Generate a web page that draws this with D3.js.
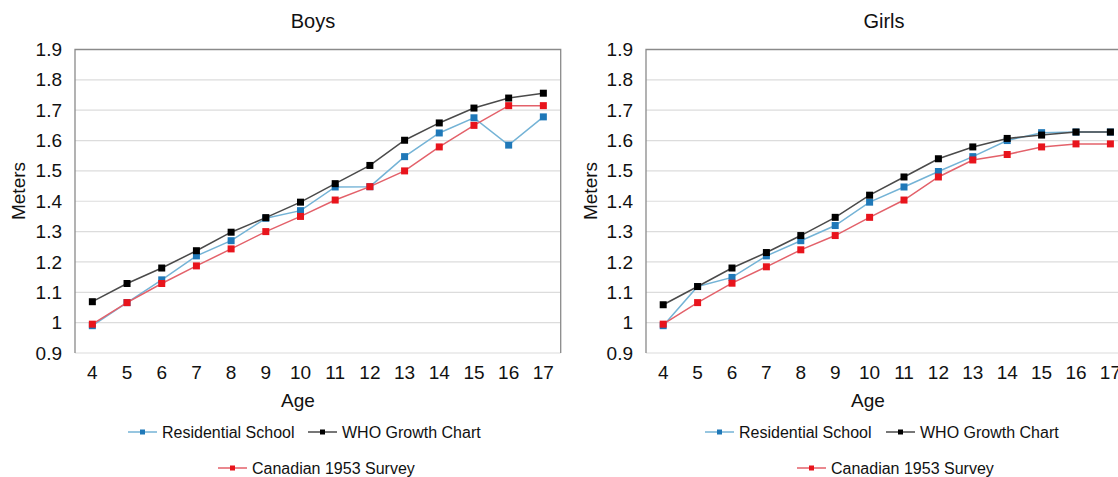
<!DOCTYPE html>
<html>
<head>
<meta charset="utf-8">
<script src="https://cdn.jsdelivr.net/npm/d3@7"></script>
<style>
  html, body { margin: 0; padding: 0; background: #fff; }
  svg { display: block; font-family: "Liberation Sans", Arial, Helvetica, sans-serif; }
</style>
</head>
<body>
<svg id="chart" width="1118" height="477"></svg>
<script>
// ---- Data ----
const ages = [4, 5, 6, 7, 8, 9, 10, 11, 12, 13, 14, 15, 16, 17];
const yTicks = [0.9, 1.0, 1.1, 1.2, 1.3, 1.4, 1.5, 1.6, 1.7, 1.8, 1.9];
const seriesNames = ["Residential School", "WHO Growth Chart", "Canadian 1953 Survey"];

const boysResidential = [0.990, 1.066, 1.141, 1.220, 1.270, 1.344, 1.369, 1.447, 1.448, 1.547, 1.625, 1.675, 1.585, 1.678];
const boysWHO         = [1.069, 1.129, 1.180, 1.237, 1.298, 1.346, 1.397, 1.458, 1.518, 1.601, 1.658, 1.707, 1.740, 1.756];
const boysCanadian    = [0.995, 1.066, 1.129, 1.187, 1.243, 1.300, 1.350, 1.404, 1.448, 1.500, 1.579, 1.650, 1.715, 1.715];

const girlsResidential = [0.990, 1.119, 1.149, 1.220, 1.270, 1.320, 1.397, 1.447, 1.498, 1.547, 1.600, 1.626, 1.628, 1.628];
const girlsWHO         = [1.059, 1.119, 1.180, 1.231, 1.287, 1.347, 1.420, 1.480, 1.540, 1.579, 1.607, 1.618, 1.628, 1.628];
const girlsCanadian    = [0.995, 1.066, 1.130, 1.184, 1.240, 1.287, 1.347, 1.404, 1.480, 1.536, 1.554, 1.579, 1.589, 1.589];

// ---- Styles ----
const styles = [
  { line: "#74b3d6", marker: "#1f78b8" },
  { line: "#4a4a4a", marker: "#000000" },
  { line: "#e3616a", marker: "#e8141c" }
];

const svg = d3.select("#chart");

const panels = [
  { title: "Boys", data: [boysResidential, boysWHO, boysCanadian],
    left: 75, right: 560.7, titleX: 313, metersX: 18, ageX: 298,
    legend: { r1: [128, 308], r2: 218 } },
  { title: "Girls", data: [girlsResidential, girlsWHO, girlsCanadian],
    left: 646, right: 1127.6, titleX: 884, metersX: 590, ageX: 868,
    legend: { r1: [705, 886], r2: 797 } }
];

const plotTop = 49.5, plotBottom = 353;

panels.forEach(p => {
  const g = svg.append("g");
  const x = d3.scaleBand().domain(ages).range([p.left, p.right]).padding(0);
  const y = d3.scaleLinear().domain([0.9, 1.9]).range([plotBottom, plotTop]);

  // gridlines
  g.append("g").selectAll("line")
    .data(yTicks.slice(0, -1))
    .join("line")
    .attr("x1", p.left).attr("x2", p.right)
    .attr("y1", d => y(d)).attr("y2", d => y(d))
    .attr("stroke", "#dcdcdc").attr("stroke-width", 1.2);

  // border (left, top, right)
  g.append("path")
    .attr("d", `M${p.left},${plotBottom} L${p.left},${plotTop} L${p.right},${plotTop} L${p.right},${plotBottom}`)
    .attr("fill", "none").attr("stroke", "#8a8a8a").attr("stroke-width", 1.3);

  // y axis
  const yAxis = d3.axisLeft(y).tickValues(yTicks).tickSize(0).tickPadding(13)
    .tickFormat(d => d3.format("~g")(+d.toFixed(1)));
  const ya = g.append("g").attr("transform", `translate(${p.left},0)`).call(yAxis);
  ya.select(".domain").remove();
  ya.selectAll("text").attr("font-size", 19).attr("fill", "#111")
    .attr("font-family", "'Liberation Sans', Arial, sans-serif");

  // x axis
  const xAxis = d3.axisBottom(x).tickSize(0).tickPadding(13);
  const xa = g.append("g").attr("transform", `translate(0,${plotBottom})`).call(xAxis);
  xa.select(".domain").remove();
  xa.selectAll("text").attr("font-size", 19).attr("fill", "#111")
    .attr("font-family", "'Liberation Sans', Arial, sans-serif");

  // titles
  g.append("text").attr("x", p.titleX).attr("y", 28).attr("text-anchor", "middle")
    .attr("font-size", 20).attr("fill", "#111").text(p.title);
  g.append("text").attr("transform", `translate(${p.metersX + 7},191) rotate(-90)`)
    .attr("text-anchor", "middle").attr("font-size", 19).attr("fill", "#111").text("Meters");
  g.append("text").attr("x", p.ageX).attr("y", 407).attr("text-anchor", "middle")
    .attr("font-size", 19).attr("fill", "#111").text("Age");

  // series
  const cx = d => x(d) + x.bandwidth() / 2;
  const lineGen = d3.line().x((d, i) => cx(ages[i])).y(d => y(d));
  p.data.forEach((vals, si) => {
    const sg = g.append("g");
    sg.append("path").datum(vals).attr("d", lineGen)
      .attr("fill", "none").attr("stroke", styles[si].line).attr("stroke-width", 1.5);
    sg.selectAll("rect").data(vals).join("rect")
      .attr("x", (d, i) => cx(ages[i]) - 3.5).attr("y", d => y(d) - 3.5)
      .attr("width", 7).attr("height", 7).attr("fill", styles[si].marker);
  });

  // legend
  const legendItems = [
    { si: 0, x: p.legend.r1[0], y: 432 },
    { si: 1, x: p.legend.r1[1], y: 432 },
    { si: 2, x: p.legend.r2, y: 468 }
  ];
  legendItems.forEach(it => {
    const lg = g.append("g");
    lg.append("line").attr("x1", it.x).attr("x2", it.x + 29).attr("y1", it.y).attr("y2", it.y)
      .attr("stroke", styles[it.si].line).attr("stroke-width", 1.5);
    lg.append("rect").attr("x", it.x + 14.5 - 2.5).attr("y", it.y - 2.5).attr("width", 5).attr("height", 5)
      .attr("fill", styles[it.si].marker);
    lg.append("text").attr("x", it.x + 34).attr("y", it.y + 5.5).attr("font-size", 16)
      .attr("fill", "#111").text(seriesNames[it.si]);
  });
});
</script>
</body>
</html>
